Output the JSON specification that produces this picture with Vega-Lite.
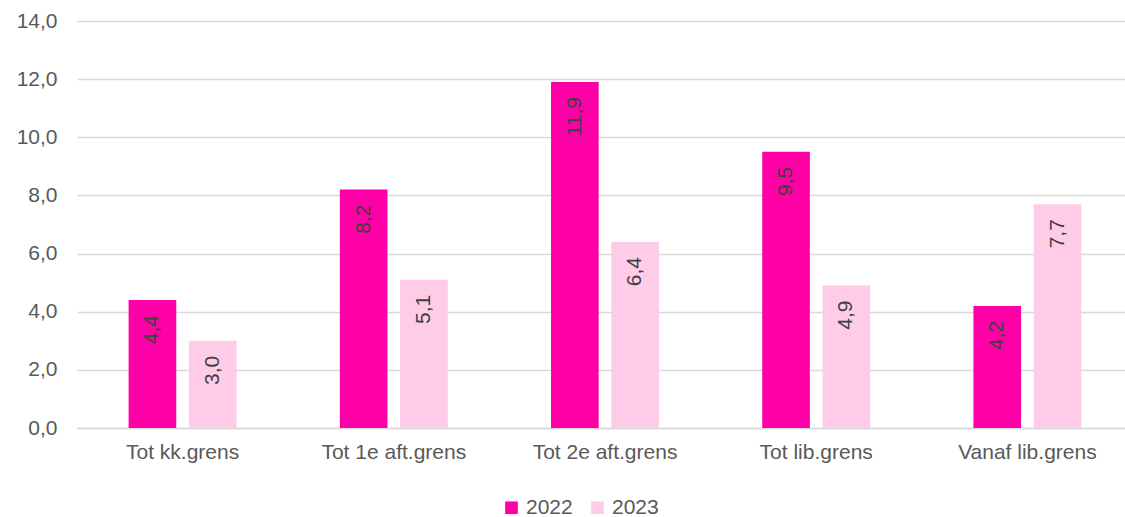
{
  "$schema": "https://vega.github.io/schema/vega-lite/v6.json",
  "width": 1056,
  "height": 407,
  "autosize": {"type": "none"},
  "padding": {"left": 77, "top": 21, "right": 0, "bottom": 89},
  "background": "white",
  "config": {
    "locale": {"number": {"decimal": ",", "thousands": ".", "grouping": [3], "currency": ["€", ""]}},
    "view": {"stroke": null},
    "font": "Liberation Sans"
  },
  "data": {
    "values": [
      {"cat": "Tot kk.grens", "jaar": "2022", "v": 4.4},
      {"cat": "Tot kk.grens", "jaar": "2023", "v": 3.0},
      {"cat": "Tot 1e aft.grens", "jaar": "2022", "v": 8.2},
      {"cat": "Tot 1e aft.grens", "jaar": "2023", "v": 5.1},
      {"cat": "Tot 2e aft.grens", "jaar": "2022", "v": 11.9},
      {"cat": "Tot 2e aft.grens", "jaar": "2023", "v": 6.4},
      {"cat": "Tot lib.grens", "jaar": "2022", "v": 9.5},
      {"cat": "Tot lib.grens", "jaar": "2023", "v": 4.9},
      {"cat": "Vanaf lib.grens", "jaar": "2022", "v": 4.2},
      {"cat": "Vanaf lib.grens", "jaar": "2023", "v": 7.7}
    ]
  },
  "encoding": {
    "x": {
      "field": "cat", "type": "nominal", "sort": null, "title": null,
      "scale": {"paddingInner": 0.4888, "paddingOuter": 0.2444},
      "axis": {"labelAngle": 0, "labelFontSize": 21, "labelColor": "#595959", "ticks": false, "domainColor": "#D9D9D9", "domainWidth": 1.5, "labelPadding": 13}
    },
    "xOffset": {"field": "jaar", "type": "nominal", "scale": {"paddingInner": 0.21, "paddingOuter": 0}},
    "y": {
      "field": "v", "type": "quantitative", "title": null,
      "scale": {"domain": [0, 14]},
      "axis": {"values": [0, 2, 4, 6, 8, 10, 12, 14], "format": ".1f", "labelFontSize": 21, "labelColor": "#595959", "ticks": false, "domain": false, "gridColor": "#D9D9D9", "gridWidth": 1.5, "labelPadding": 20}
    }
  },
  "layer": [
    {
      "mark": {"type": "bar"},
      "encoding": {
        "color": {
          "field": "jaar", "type": "nominal",
          "scale": {"domain": ["2022", "2023"], "range": ["#FF00A6", "#FFCCE8"]},
          "legend": {"title": null, "orient": "none", "direction": "horizontal", "legendX": 424, "legendY": 476, "symbolType": "square", "symbolSize": 160, "symbolStrokeWidth": 0, "labelFontSize": 21, "labelColor": "#595959", "columnPadding": 14, "labelOffset": 4}
        }
      }
    },
    {
      "mark": {"type": "text", "angle": 270, "align": "right", "baseline": "middle", "dx": -15, "fontSize": 21, "color": "#404040"},
      "encoding": {"text": {"field": "v", "type": "quantitative", "format": ".1f"}}
    }
  ]
}
